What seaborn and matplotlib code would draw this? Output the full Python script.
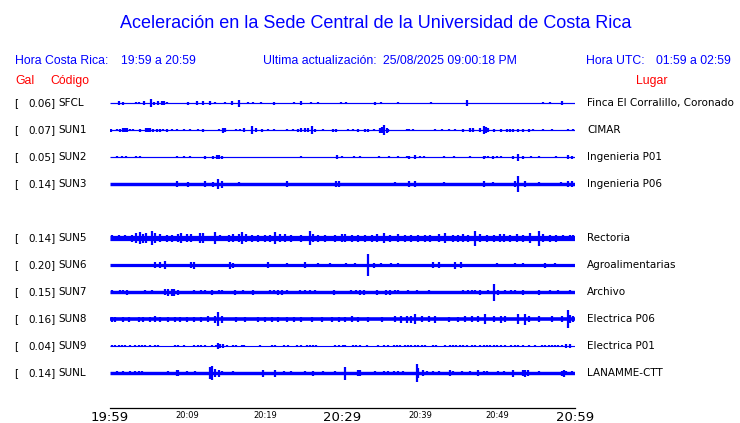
import matplotlib
matplotlib.use("Agg")
import matplotlib.pyplot as plt
import seaborn as sns
import pandas as pd

sns.set_style("white")
plt.rcParams["font.family"] = ["DejaVu Sans"]

# ---------------- data ----------------
stations = ["SFCL", "SUN1", "SUN2", "SUN3", "SUN5", "SUN6", "SUN7", "SUN8", "SUN9", "SUNL"]
places = ["Finca El Corralillo, Coronado", "CIMAR", "Ingenieria P01", "Ingenieria P06",
          "Rectoria", "Agroalimentarias", "Archivo", "Electrica P06", "Electrica P01", "LANAMME-CTT"]
peak_gal = [0.06, 0.07, 0.05, 0.14, 0.14, 0.20, 0.15, 0.16, 0.04, 0.14]
# background noise half-amplitude of each trace (relative units)
noise_level = [0.6, 0.6, 0.6, 1.7, 2.6, 1.6, 1.7, 1.8, 0.5, 1.7]

# bursts: (minute after 19:59, half-amplitude)
sfcl_events = [(1.1, 2), (1.7, 1.5), (3.4, 1.2), (3.8, 1.2), (4.4, 2), (5.3, 4), (5.7, 1.5), (6.2, 2),
               (6.7, 2), (7.0, 2), (7.4, 1.2), (10.1, 1.5), (11.2, 2), (12.0, 2), (12.9, 2), (13.5, 1.2),
               (14.8, 1.2), (15.8, 2), (16.7, 3.5), (17.8, 1.2), (18.4, 1.2), (19.5, 1.2), (21.2, 1.5),
               (23.7, 1.2), (24.7, 2), (25.9, 1.2), (26.8, 1.2), (29.8, 1.2), (30.4, 1.2), (34.2, 1.5),
               (35.0, 1.2), (37.1, 1.2), (41.4, 1.2), (46.1, 3), (55.9, 1.2), (56.8, 1.2), (58.3, 2)]
sun1_events = [(0.1, 1.5), (0.9, 1.2), (1.3, 1.5), (1.7, 2), (1.9, 2), (2.2, 2), (2.6, 1.2), (3.0, 1.2),
               (3.9, 1.5), (4.7, 2), (4.9, 2), (5.2, 2), (5.6, 1.5), (6.0, 1.5), (6.5, 1.5), (6.9, 1.2),
               (7.3, 1.5), (8.0, 1.2), (8.6, 1.2), (9.5, 1.2), (10.3, 1.2), (11.4, 1.2), (12.0, 1.5),
               (14.0, 1.2), (14.6, 2.5), (14.9, 2), (16.3, 1.2), (16.8, 1.2), (17.3, 2), (18.3, 4),
               (18.9, 2), (19.6, 1.5), (20.4, 1.2), (21.1, 1.2), (22.8, 1.2), (23.6, 1.2), (24.3, 1.5),
               (24.7, 2), (25.2, 2), (25.6, 2), (26.0, 4.3), (26.4, 1.5), (27.5, 1.2), (28.8, 1.5),
               (29.2, 1.5), (30.7, 1.2), (31.4, 1.2), (32.0, 1.5), (32.9, 1.5), (33.3, 1.5), (34.0, 1.2),
               (34.8, 2.5), (35.1, 3), (35.4, 5), (35.7, 2.5), (35.9, 1.5), (38.3, 1.2), (38.6, 1.2),
               (39.1, 1.2), (41.9, 1.2), (42.8, 1.2), (43.7, 1.2), (44.5, 1.2), (45.6, 1.5), (46.5, 2),
               (46.9, 2), (47.7, 2), (48.2, 4), (48.5, 3), (48.8, 2), (49.5, 1.5), (50.5, 1.5), (51.2, 1.5),
               (51.6, 1.5), (52.0, 1.5), (52.7, 1.5), (53.3, 1.5), (54.0, 1.5), (54.6, 1.2), (55.9, 1.2),
               (57.0, 1.2), (59.1, 1.2), (59.8, 1.2)]
sun2_events = [(0.9, 1.2), (1.5, 1.2), (2.0, 1.2), (3.3, 1.2), (3.9, 1.2), (8.6, 1.2), (9.5, 1.0),
               (10.3, 1.0), (12.3, 1.5), (13.3, 1.5), (13.8, 2.3), (14.0, 2.3), (14.4, 1.5), (24.7, 1.0),
               (29.3, 2), (29.9, 1.2), (31.5, 1.0), (32.2, 1.0), (34.7, 1.0), (36.0, 1.0), (37.2, 1.0),
               (38.3, 1.2), (38.6, 1.5), (39.3, 2), (40.0, 1.2), (40.5, 1.2), (43.1, 1.0), (44.4, 1.0),
               (46.4, 1.0), (48.2, 1.5), (48.4, 1.2), (48.8, 1.0), (49.4, 1.5), (49.9, 1.0), (50.5, 1.0),
               (52.0, 1.5), (52.7, 3.5), (53.3, 1.5), (54.3, 1.0), (55.3, 1.0), (57.5, 1.0), (59.1, 2),
               (59.6, 1.5)]
sun3_events = [(8.6, 3), (10.1, 2.5), (12.3, 2.7), (13.3, 2.5), (13.9, 5.3), (14.4, 3.5), (16.6, 2.3),
               (22.9, 2.7), (29.2, 2.7), (29.6, 2.7), (36.8, 2.3), (38.6, 3.3), (39.3, 2.7), (43.1, 2.3),
               (48.3, 2.7), (49.4, 2.3), (52.2, 2.7), (52.7, 8), (53.5, 3), (55.3, 2.3), (58.2, 2.3),
               (59.1, 2.7), (59.6, 2.7)]
sun5_events = [(0.2, 3), (1.1, 3), (1.9, 3), (2.8, 3.5), (3.4, 5), (3.9, 6), (4.3, 4.5), (4.7, 5), (5.4, 7),
               (5.8, 5), (6.5, 4), (7.3, 3.5), (8.0, 3.5), (8.8, 4), (9.2, 5), (9.9, 4), (10.5, 4), (11.6, 5),
               (12.0, 5), (13.5, 6), (14.2, 3), (15.3, 3.5), (15.9, 4), (16.6, 4), (17.0, 6), (17.6, 4),
               (18.3, 3.5), (19.1, 3.5), (20.0, 3.5), (20.6, 3.5), (21.3, 6), (21.9, 4), (22.6, 4),
               (23.4, 3.5), (24.7, 3.5), (25.8, 7), (26.2, 4), (26.9, 3.5), (27.7, 3.5), (29.0, 3.5),
               (29.9, 4), (30.3, 4), (31.2, 3.5), (32.0, 3.5), (32.9, 3.5), (33.8, 3.5), (34.4, 4), (35.3, 5),
               (36.1, 3.5), (37.2, 4), (38.1, 3.5), (38.9, 3.5), (39.8, 3.5), (40.6, 3.5), (41.3, 3.5),
               (42.4, 4), (43.2, 5), (44.3, 3.5), (44.9, 3.5), (45.6, 4), (46.2, 3.5), (47.1, 7.5), (47.7, 4),
               (48.6, 3.5), (49.5, 3.5), (50.3, 4), (50.8, 4), (51.6, 3.5), (52.5, 4), (53.3, 3.5), (54.2, 5),
               (55.3, 7.5), (55.9, 4), (56.8, 3.5), (57.6, 3.5), (58.5, 3), (59.4, 3), (59.8, 3)]
sun6_events = [(5.8, 3), (6.4, 3), (7.1, 4), (10.5, 3), (10.9, 3.5), (15.5, 3.5), (15.9, 2.5), (20.4, 3),
               (22.8, 2), (25.1, 3), (26.9, 2), (28.4, 2), (30.5, 2), (31.6, 2), (33.3, 11), (34.0, 2.5),
               (35.0, 2), (36.2, 2), (37.2, 2), (41.7, 3), (42.4, 3), (44.5, 3.5), (45.3, 3), (49.9, 2),
               (52.2, 2), (53.3, 2), (56.1, 2.5), (57.4, 2)]
sun7_events = [(0.2, 2.2), (1.3, 2.2), (1.7, 2.2), (2.2, 2.5), (4.5, 2.2), (5.4, 2.2), (7.1, 3), (7.5, 3.5),
               (8.0, 3.5), (8.3, 3.5), (8.8, 2.5), (10.8, 2.2), (11.8, 2.2), (12.3, 2.2), (13.1, 2.5),
               (14.0, 2.2), (14.4, 2.2), (16.1, 2.5), (17.2, 2.2), (18.5, 2.5), (20.6, 2.2), (21.1, 2.2),
               (21.7, 2.5), (22.2, 2.5), (22.8, 2.2), (24.5, 2.2), (25.2, 2.2), (25.8, 2.2), (26.5, 2.2),
               (28.9, 2.5), (31.1, 2.2), (31.7, 2.2), (32.3, 2.5), (32.8, 2.5), (34.5, 2.5), (35.6, 2.5),
               (36.1, 2.5), (36.8, 2.2), (37.2, 2.2), (38.5, 2.2), (39.6, 2.2), (41.1, 2.2), (45.6, 2.2),
               (46.2, 2.2), (46.7, 2.2), (47.1, 2.2), (47.7, 2.5), (48.8, 2.2), (49.6, 8.5), (50.1, 2.5),
               (51.0, 2.2), (51.8, 2.2), (52.2, 2.2), (53.3, 2.5), (55.3, 2.5), (56.8, 2.2), (57.8, 2.2),
               (59.4, 2.2)]
sun8_events = [(0.2, 2.5), (0.6, 2.5), (1.7, 2.5), (2.4, 2.5), (3.7, 2.5), (4.3, 2.5), (5.2, 2.5), (5.8, 3),
               (6.5, 2.5), (7.5, 2.5), (8.4, 2.5), (9.0, 2.5), (9.9, 2.5), (10.8, 2.5), (11.8, 2.5),
               (12.7, 3), (13.5, 3.5), (13.9, 7), (14.4, 3.5), (16.3, 2.5), (17.4, 2.5), (19.1, 2.5),
               (20.0, 2.5), (20.9, 2.5), (21.7, 2.5), (22.8, 2.5), (23.7, 2.5), (24.7, 2.5), (26.0, 2.5),
               (27.3, 2.5), (28.6, 2.5), (29.5, 2.5), (30.3, 2.5), (31.2, 3), (32.0, 2.5), (33.3, 2.5),
               (35.1, 2.5), (36.8, 3), (37.6, 3.5), (38.3, 3.5), (38.9, 3.5), (39.4, 5), (40.2, 3), (41.1, 3),
               (41.9, 3.5), (43.7, 2.5), (44.9, 2.5), (45.8, 3), (46.7, 3), (47.5, 3), (48.4, 5), (49.5, 3),
               (50.5, 3.5), (51.0, 3), (52.7, 5), (53.5, 5.5), (54.0, 3), (55.3, 3), (57.0, 3), (58.3, 3),
               (59.1, 9), (59.4, 4), (59.8, 3)]
sun9_events = [(0.2, 1.3), (0.6, 1.3), (1.1, 1.3), (1.5, 1.3), (1.9, 1.3), (2.6, 1.3), (3.2, 1.3), (3.7, 1.3),
               (4.1, 1.3), (4.5, 1.3), (5.2, 1.3), (5.8, 1.3), (6.2, 1.3), (8.4, 1.3), (8.8, 1.3), (9.5, 1.3),
               (10.8, 1.3), (11.4, 1.3), (11.8, 1.3), (12.3, 1.3), (13.1, 1.3), (13.7, 1.3), (13.9, 3),
               (14.2, 2), (14.6, 2), (15.1, 1.3), (15.9, 1.3), (16.3, 1.3), (17.0, 1.3), (17.3, 1.3),
               (19.4, 1.3), (20.9, 1.3), (21.3, 1.3), (22.4, 1.3), (23.0, 1.3), (24.1, 1.3), (24.7, 1.3),
               (25.4, 1.3), (25.8, 1.3), (26.2, 1.3), (26.6, 1.3), (29.0, 1.3), (29.5, 1.3), (30.1, 1.3),
               (30.3, 1.3), (31.4, 1.3), (31.8, 1.3), (32.3, 1.3), (33.1, 1.3), (34.6, 1.3), (35.3, 1.3),
               (35.9, 1.3), (36.6, 1.3), (37.0, 1.3), (37.4, 1.3), (38.1, 1.3), (38.5, 1.3), (38.9, 1.3),
               (39.4, 1.3), (39.8, 1.3), (40.2, 1.3), (40.6, 1.3), (41.7, 1.3), (42.1, 1.3), (43.2, 1.3),
               (43.9, 1.3), (44.3, 1.3), (44.7, 1.3), (45.2, 1.3), (45.6, 1.3), (46.1, 1.3), (46.7, 1.3),
               (47.1, 1.3), (47.7, 1.3), (48.2, 1.3), (48.6, 1.3), (49.0, 1.3), (49.5, 1.3), (49.9, 1.3),
               (50.5, 1.3), (51.0, 1.3), (51.8, 1.3), (52.3, 1.3), (52.7, 1.3), (53.3, 1.3), (54.0, 1.3),
               (54.8, 1.3), (55.7, 1.3), (56.1, 1.3), (56.6, 1.3), (57.0, 1.3), (57.4, 1.3), (57.8, 1.3),
               (58.3, 1.3), (58.9, 2), (59.4, 2)]
sunl_events = [(0.9, 2.2), (1.7, 2.2), (2.6, 2.2), (3.2, 2.2), (3.7, 2.2), (4.1, 2.2), (7.5, 2.2), (8.6, 3),
               (8.8, 3), (9.9, 2.2), (11.0, 2.2), (12.9, 6), (13.1, 7), (13.5, 4), (14.0, 3.5), (14.4, 2.2),
               (15.9, 2.2), (19.8, 3.5), (21.3, 3.5), (22.4, 2.2), (23.4, 2.2), (25.2, 2.2), (26.2, 2.5),
               (27.5, 2.2), (29.0, 2.2), (30.3, 6.5), (32.0, 3), (32.3, 3), (34.2, 2.2), (35.3, 2.2),
               (35.9, 2.2), (36.6, 2.2), (37.2, 2.2), (37.8, 2.2), (39.6, 9), (39.8, 5), (40.4, 3),
               (40.9, 2.2), (41.7, 2.2), (42.4, 2.2), (43.9, 3), (44.3, 2.2), (45.4, 2.2), (46.5, 2.2),
               (47.5, 3), (48.2, 2.2), (48.6, 2.2), (50.1, 2.2), (50.8, 2.2), (52.0, 3.5), (53.3, 3),
               (53.5, 3.5), (53.9, 3), (55.3, 2.2), (58.3, 2.5), (58.6, 3.5), (58.9, 2.2), (59.6, 2.2)]

tick_minutes = [0, 5, 10, 15, 20, 25, 30, 35, 40, 45, 50, 55, 60]
tick_labels = ["19:59", "", "20:09", "", "20:19", "", "20:29", "", "20:39", "", "20:49", "", "20:59"]

# ---------------- layout ----------------
W, H = 740, 423
BLUE = "#0000ff"
RED = "#ff0000"
row_y = [103, 130, 157, 184, 238, 265, 292, 319, 346, 373]  # pixel rows of trace centres

fig = plt.figure(figsize=(W / 100, H / 100), dpi=100)
fig.patch.set_facecolor("white")


def fx(px):
    return px / W


def fy(py):
    return 1 - py / H


ax = fig.add_axes([fx(110), fy(395), 465 / W, (395 - 85) / H])
ax.set_xlim(0, 60)
ax.set_ylim(395, 85)
ax.axis("off")

all_events = [sfcl_events, sun1_events, sun2_events, sun3_events, sun5_events,
              sun6_events, sun7_events, sun8_events, sun9_events, sunl_events]

for st, yc, nl, evs in zip(stations, row_y, noise_level, all_events):
    base = pd.DataFrame({"minute": [0, 60], "y": [yc, yc]})
    sns.lineplot(data=base, x="minute", y="y", ax=ax, color=BLUE,
                 linewidth=max(2 * nl * 0.72, 0.8), solid_capstyle="butt")
    ev = pd.DataFrame(evs, columns=["minute", "amp"])
    ax.vlines(ev["minute"], yc - ev["amp"], yc + ev["amp"], colors=BLUE, linewidth=1.6)

ax.set_xlabel("")
ax.set_ylabel("")

# time axis
tax = fig.add_axes([fx(110), fy(408), 465 / W, 0.001])
tax.set_xlim(0, 60)
tax.set_yticks([])
for s in ["top", "left", "right"]:
    tax.spines[s].set_visible(False)
tax.spines["bottom"].set_color("black")
tax.spines["bottom"].set_linewidth(0.9)
tax.set_facecolor("none")
tax.set_xticks(tick_minutes)
tax.set_xticklabels(tick_labels)
tax.tick_params(axis="x", direction="in", length=6, width=0.8, pad=2.5, colors="black")
for lbl, txt in zip(tax.get_xticklabels(), tick_labels):
    if txt in ("19:59", "20:29", "20:59"):
        lbl.set_fontsize(9.5)
    else:
        lbl.set_fontsize(6)

# header texts
hfont = ["Liberation Sans", "DejaVu Sans"]
fig.text(fx(376), fy(23), "Aceleración en la Sede Central de la Universidad de Costa Rica",
         ha="center", va="center", color=BLUE, fontsize=13, family=hfont)
hs = 8.8
fig.text(fx(15), fy(61), "Hora Costa Rica:", ha="left", va="center", color=BLUE, fontsize=hs, family=hfont)
fig.text(fx(121), fy(61), "19:59 a 20:59", ha="left", va="center", color=BLUE, fontsize=hs, family=hfont)
fig.text(fx(263), fy(61), "Ultima actualización:", ha="left", va="center", color=BLUE, fontsize=hs, family=hfont)
fig.text(fx(383), fy(61), "25/08/2025 09:00:18 PM", ha="left", va="center", color=BLUE, fontsize=hs, family=hfont)
fig.text(fx(586), fy(61), "Hora UTC:", ha="left", va="center", color=BLUE, fontsize=hs, family=hfont)
fig.text(fx(656), fy(61), "01:59 a 02:59", ha="left", va="center", color=BLUE, fontsize=hs, family=hfont)
fig.text(fx(15), fy(81), "Gal", ha="left", va="center", color=RED, fontsize=hs, family=hfont)
fig.text(fx(50), fy(81), "Código", ha="left", va="center", color=RED, fontsize=hs, family=hfont)
fig.text(fx(636), fy(81), "Lugar", ha="left", va="center", color=RED, fontsize=hs, family=hfont)

# station labels
ls = 7.5
for st, yc, g, pl in zip(stations, row_y, peak_gal, places):
    fig.text(fx(14), fy(yc), "[", ha="left", va="center", fontsize=ls, color="black")
    fig.text(fx(55.5), fy(yc), f"{g:.2f}]", ha="right", va="center", fontsize=ls, color="black")
    fig.text(fx(58.5), fy(yc), st, ha="left", va="center", fontsize=ls, color="black")
    fig.text(fx(587), fy(yc), pl, ha="left", va="center", fontsize=ls, color="black")

fig.savefig("out.png", dpi=100, facecolor="white")
